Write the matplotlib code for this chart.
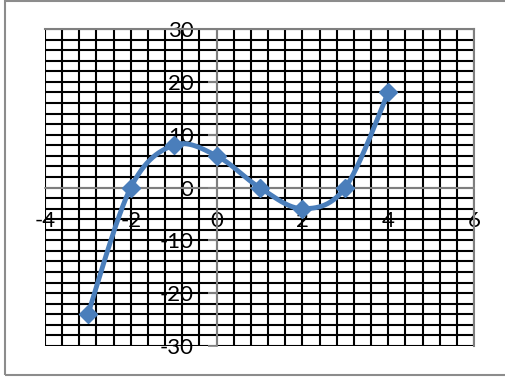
import numpy as np
import matplotlib
matplotlib.use("Agg")
import matplotlib.pyplot as plt
from matplotlib.patches import Rectangle

# data points (x, y)
x_values = [-3, -2, -1, 0, 1, 2, 3, 4]
y_values = [-24, 0, 8, 6, 0, -4, 0, 18]

x_ticks = [-4, -2, 0, 2, 4, 6]
y_ticks = [-30, -20, -10, 0, 10, 20, 30]

line_color = "#4A7EBB"


def smooth_curve(xs, ys, steps=30):
    # Excel-like smoothing: cubic bezier with catmull-rom control points
    pts = np.column_stack([xs, ys]).astype(float)
    out = []
    n = len(pts)
    for i in range(n - 1):
        p0 = pts[max(i - 1, 0)]
        p1 = pts[i]
        p2 = pts[i + 1]
        p3 = pts[min(i + 2, n - 1)]
        c1 = p1 + (p2 - p0) / 6
        c2 = p2 - (p3 - p1) / 6
        t = np.linspace(0, 1, steps)[:, None]
        seg = ((1 - t) ** 3) * p1 + 3 * ((1 - t) ** 2) * t * c1 + 3 * (1 - t) * t ** 2 * c2 + t ** 3 * p2
        out.append(seg)
    curve = np.vstack(out)
    return curve[:, 0], curve[:, 1]


plt.rcParams["font.family"] = ["Lato", "DejaVu Sans"]

fig = plt.figure(figsize=(5.06, 3.79), dpi=100)
ax = fig.add_axes([45 / 506, 33 / 379, 429 / 506, 317 / 379])

# outer chart border
fig.patches.append(Rectangle((5 / 506, 4 / 379), 1.2, 374 / 379, transform=fig.transFigure,
                             fill=False, edgecolor="#8c8c8c", linewidth=1.5))

ax.set_xlim(-4, 6)
ax.set_ylim(-30, 30)
ax.set_xticks(x_ticks)
ax.set_yticks(y_ticks)
ax.set_xticks(np.arange(-4, 6.01, 0.4), minor=True)
ax.set_yticks(np.arange(-30, 30.01, 2), minor=True)
ax.grid(True, which="both", color="black", linewidth=1.5)
ax.set_axisbelow(True)

for side in ["top", "right"]:
    ax.spines[side].set_color("#7f7f7f")
    ax.spines[side].set_linewidth(1.5)
ax.spines["left"].set_position("zero")
ax.spines["bottom"].set_position("zero")
ax.spines["left"].set_color("#8c8c8c")
ax.spines["bottom"].set_color("#8c8c8c")
ax.spines["left"].set_linewidth(1.3)
ax.spines["bottom"].set_linewidth(1.3)

ax.tick_params(axis="y", which="major", length=6.5, width=1.3, color="#8c8c8c", pad=10)
ax.tick_params(axis="x", which="major", length=0, pad=17)
ax.tick_params(which="minor", length=0)
ax.set_xticklabels([str(v) for v in x_ticks], fontsize=16)
ax.set_yticklabels([str(v) for v in y_ticks], fontsize=16)

sx, sy = smooth_curve(x_values, y_values)
ax.plot(sx, sy, color=line_color, linewidth=3.5, solid_capstyle="round", zorder=3)
ax.plot(x_values, y_values, linestyle="none", marker="D", markersize=9,
        color=line_color, zorder=4)

fig.savefig("out.png", dpi=100)
